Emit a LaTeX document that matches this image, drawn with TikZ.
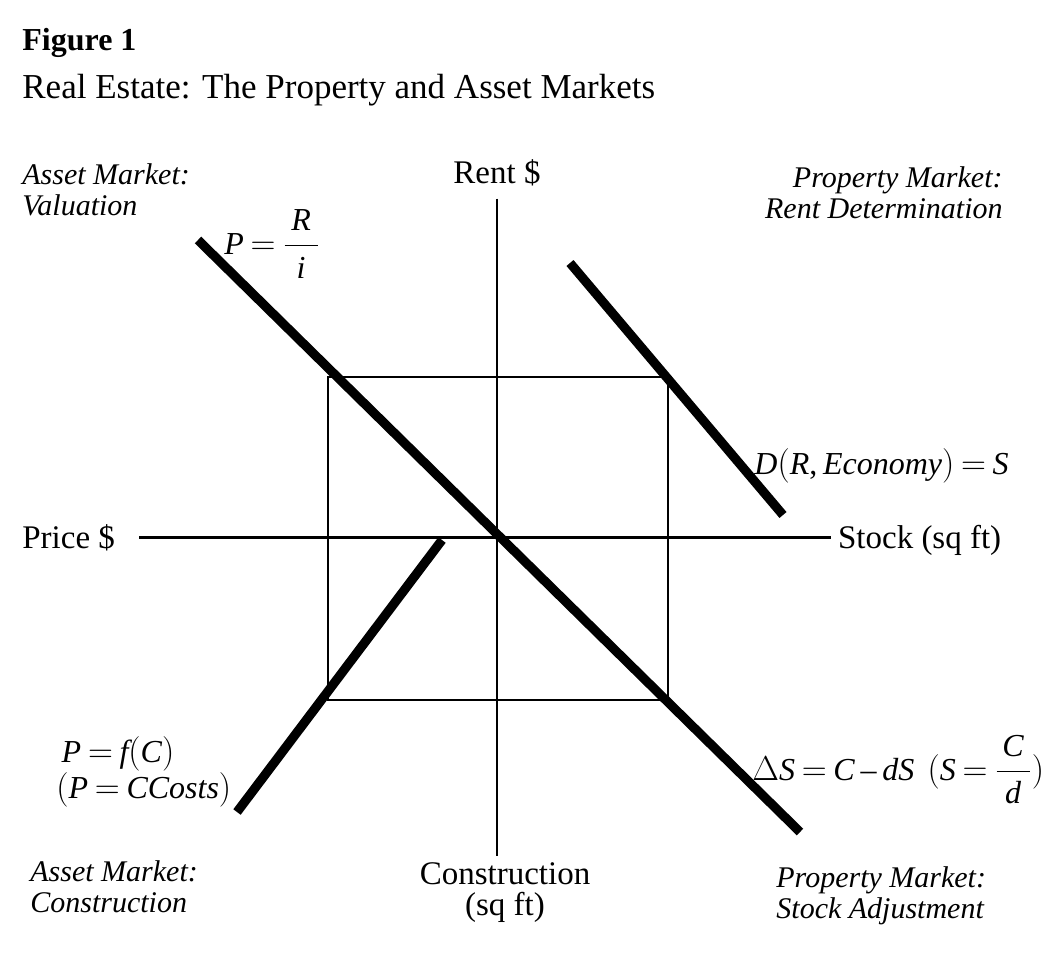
\documentclass[tikz,border=0pt]{standalone}
\usepackage{amsmath}
\usepackage{fontspec}
\setmainfont{Liberation Serif}
\usepackage[italic]{mathastext}
\usetikzlibrary{positioning}

\newcommand{\tightmath}{\thickmuskip=3.5mu\relax\medmuskip=3mu\relax}

\tikzset{
  curve/.style={line width=4.6pt},
  axis/.style={line width=1.4pt},
  guide/.style={line width=0.8pt},
  quadlabel/.style={font=\fontsize{15}{15.5}\selectfont\itshape, inner sep=0pt},
  axlabel/.style={font=\fontsize{16.5}{15.5}\selectfont},
  eqn/.style={font=\fontsize{16}{16}\selectfont, inner sep=0pt},
}

\begin{document}
\begin{tikzpicture}[x=0.5pt,y=-0.5pt]
\useasboundingbox (0,0) rectangle (1060,958);
% heading
\node[anchor=base west, inner sep=0pt, font=\fontsize{16}{18}\selectfont\bfseries] (fig) at (22,50) {Figure 1};
\node[anchor=base west, inner sep=0pt, font=\fontsize{17.5}{20}\selectfont] (title) at (22,98) {Real Estate: The Property and Asset Markets};

% axis labels
\node[axlabel, anchor=base] (rent) at (497,183) {Rent \$};
\node[axlabel, anchor=base west, inner sep=0pt] (price) at (22,548) {Price \$};
\node[axlabel, anchor=base west] (stock) at (831,548) {Stock (sq ft)};
\node[axlabel, anchor=north, align=center] (constr) at (505,856) {Construction\\(sq ft)};

% quadrant labels
\node[quadlabel, anchor=north west, align=left] (valuation) at (22,163) {Asset Market:\\Valuation};
\node[quadlabel, anchor=north east, align=right] (rentdet) at (1003,166) {Property Market:\\Rent Determination};
\node[quadlabel, anchor=north west, align=left] (construct) at (30,860) {Asset Market:\\Construction};
\node[quadlabel, anchor=north west, align=left] (stockadj) at (776,866) {Property Market:\\Stock Adjustment};

% equations
\node[eqn, anchor=west] (priceeq) at (224,244) {$\tightmath P=\dfrac{\;R\;}{i}$};
\node[eqn, anchor=west] (demandeq) at (754,466) {$\tightmath D(R,Economy)=S$};
\node[eqn, anchor=north west, align=left] (costeq) at (56,736) {\,$\tightmath P=f(C)$\\$\tightmath (P=CCosts)$};
\node[eqn, anchor=west] (stockeq) at (752,770) {$\tightmath \Delta S=C-dS\;\;(S=\dfrac{\,C\,}{d})$};

% curve end points
\coordinate (val1) at (198,240);
\coordinate (val2) at (800,832);
\coordinate (dem1) at (570,263);
\coordinate (dem2) at (783,515);
\coordinate (con1) at (442,540);
\coordinate (con2) at (237,812);
\coordinate (boxnw) at (328,377);
\coordinate (boxse) at (668,700);

% axes
\draw[axis, shorten <=3pt] (rent.south) -- (rent.south |- constr.north);
\draw[axis, shorten <=12pt] (price.east) -- (price.east -| stock.west);

% equilibrium box
\draw[guide] (boxnw) rectangle (boxse);

% the three schedules
\draw[curve] (val1) -- (val2);
\draw[curve] (dem1) -- (dem2);
\draw[curve] (con1) -- (con2);
\end{tikzpicture}
\end{document}
